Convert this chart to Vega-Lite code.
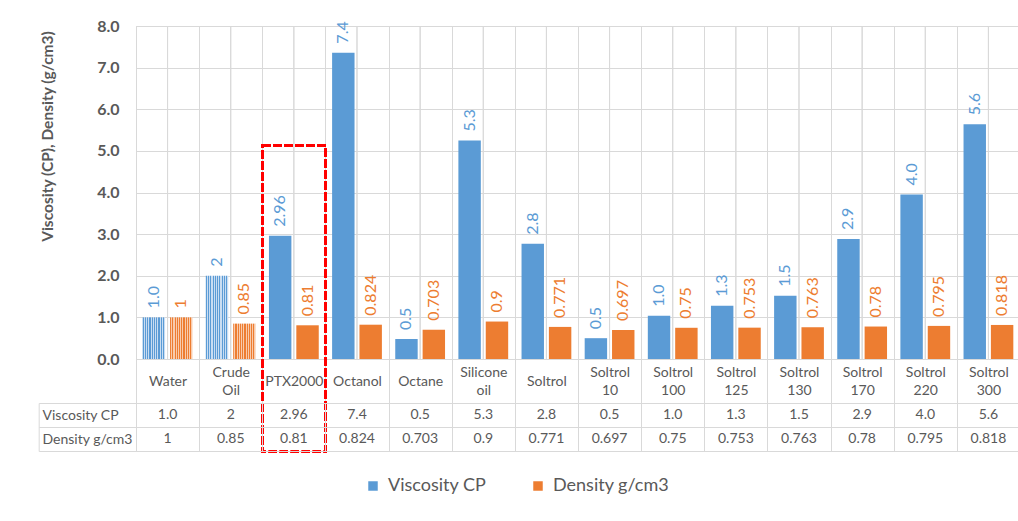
{
  "$schema": "https://vega.github.io/schema/vega-lite/v6.json",
  "padding": {"left": 37, "top": 17, "right": 0, "bottom": 5},
  "bounds": "flush",
  "spacing": 44,
  "config": {
    "font": "Lato",
    "view": {"stroke": "#d9d9d9"},
    "axis": {"gridColor": "#d9d9d9", "domainColor": "#d9d9d9", "tickColor": "#d9d9d9", "labelColor": "#595959", "titleColor": "#595959", "labelFont": "Lato", "titleFont": "Lato"},
    "legend": {"labelFont": "Lato"}
  },
  "datasets": {
    "d": [
      {"cat": "Water", "series": "Viscosity CP", "value": 1.0, "label": "1.0"},
      {"cat": "Crude Oil", "series": "Viscosity CP", "value": 2.0, "label": "2"},
      {"cat": "PTX2000", "series": "Viscosity CP", "value": 2.96, "label": "2.96"},
      {"cat": "Octanol", "series": "Viscosity CP", "value": 7.36, "label": "7.4"},
      {"cat": "Octane", "series": "Viscosity CP", "value": 0.48, "label": "0.5"},
      {"cat": "Silicone oil", "series": "Viscosity CP", "value": 5.25, "label": "5.3"},
      {"cat": "Soltrol", "series": "Viscosity CP", "value": 2.77, "label": "2.8"},
      {"cat": "Soltrol 10", "series": "Viscosity CP", "value": 0.5, "label": "0.5"},
      {"cat": "Soltrol 100", "series": "Viscosity CP", "value": 1.04, "label": "1.0"},
      {"cat": "Soltrol 125", "series": "Viscosity CP", "value": 1.28, "label": "1.3"},
      {"cat": "Soltrol 130", "series": "Viscosity CP", "value": 1.52, "label": "1.5"},
      {"cat": "Soltrol 170", "series": "Viscosity CP", "value": 2.88, "label": "2.9"},
      {"cat": "Soltrol 220", "series": "Viscosity CP", "value": 3.95, "label": "4.0"},
      {"cat": "Soltrol 300", "series": "Viscosity CP", "value": 5.64, "label": "5.6"},
      {"cat": "Water", "series": "Density g/cm3", "value": 1.0, "label": "1"},
      {"cat": "Crude Oil", "series": "Density g/cm3", "value": 0.85, "label": "0.85"},
      {"cat": "PTX2000", "series": "Density g/cm3", "value": 0.81, "label": "0.81"},
      {"cat": "Octanol", "series": "Density g/cm3", "value": 0.824, "label": "0.824"},
      {"cat": "Octane", "series": "Density g/cm3", "value": 0.703, "label": "0.703"},
      {"cat": "Silicone oil", "series": "Density g/cm3", "value": 0.9, "label": "0.9"},
      {"cat": "Soltrol", "series": "Density g/cm3", "value": 0.771, "label": "0.771"},
      {"cat": "Soltrol 10", "series": "Density g/cm3", "value": 0.697, "label": "0.697"},
      {"cat": "Soltrol 100", "series": "Density g/cm3", "value": 0.75, "label": "0.75"},
      {"cat": "Soltrol 125", "series": "Density g/cm3", "value": 0.753, "label": "0.753"},
      {"cat": "Soltrol 130", "series": "Density g/cm3", "value": 0.763, "label": "0.763"},
      {"cat": "Soltrol 170", "series": "Density g/cm3", "value": 0.78, "label": "0.78"},
      {"cat": "Soltrol 220", "series": "Density g/cm3", "value": 0.795, "label": "0.795"},
      {"cat": "Soltrol 300", "series": "Density g/cm3", "value": 0.818, "label": "0.818"}
    ]
  },
  "vconcat": [
    {
      "width": 884,
      "height": 333,
      "data": {"name": "d"},
      "encoding": {
        "x": {
          "field": "cat", "type": "nominal",
          "sort": ["Water","Crude Oil","PTX2000","Octanol","Octane","Silicone oil","Soltrol","Soltrol 10","Soltrol 100","Soltrol 125","Soltrol 130","Soltrol 170","Soltrol 220","Soltrol 300"],
          "scale": {"paddingInner": 0, "paddingOuter": 0},
          "axis": {"title": null, "tickBand": "extent", "grid": true, "ticks": true, "tickSize": 44, "domain": true, "labelExpr": "indexof(datum.label, ' ') >= 0 ? [split(datum.label, ' ')[0], '\u200b', split(datum.label, ' ')[1]] : ['\u200b', datum.label]", "labelFontSize": 14, "labelPadding": -31, "labelBaseline": "middle", "labelLineHeight": 9, "labelAngle": 0}
        }
      },
      "layer": [
        {"mark": {"type": "rule", "color": "#d9d9d9", "strokeWidth": 1}, "encoding": {}},
        {
          "mark": {"type": "bar"},
          "encoding": {
            "xOffset": {"field": "series", "type": "nominal", "sort": ["Viscosity CP", "Density g/cm3"], "scale": {"paddingInner": 0.18, "paddingOuter": 0.244}},
            "y": {"field": "value", "type": "quantitative", "scale": {"domain": [0, 8], "nice": false},
                  "axis": {"title": "Viscosity (CP), Density (g/cm3)", "values": [0,1,2,3,4,5,6,7,8], "format": ".1f", "labelFontSize": 16, "labelFontWeight": "bold", "labelPadding": 17, "ticks": false, "grid": true, "domain": true, "titleFontSize": 15.5, "titleFontWeight": "bold", "titleX": -89, "titleY": 110, "titleAngle": 270, "titleBaseline": "middle", "titleAlign": "center"}},
            "color": {
              "field": "series", "type": "nominal",
              "scale": {"domain": ["Viscosity CP", "Density g/cm3"], "range": ["#5b9bd5", "#ed7d31"]},
              "legend": {"title": null, "orient": "none", "direction": "horizontal", "legendX": 228, "legendY": 451, "symbolType": "square", "symbolSize": 90, "labelFontSize": 18, "labelColor": "#595959", "columnPadding": 42, "labelOffset": 6},
              "condition": [
                {"test": "(datum.cat === 'Water' || datum.cat === 'Crude Oil') && datum.series === 'Viscosity CP'",
                 "value": {"gradient": "linear", "x1": 0, "y1": 0, "x2": 1, "y2": 0, "stops": [
                   {"offset": 0, "color": "#5b9bd5"}, {"offset": 0.05, "color": "#5b9bd5"}, {"offset": 0.05, "color": "#c9ddf2"}, {"offset": 0.1, "color": "#c9ddf2"},
                   {"offset": 0.1, "color": "#5b9bd5"}, {"offset": 0.15, "color": "#5b9bd5"}, {"offset": 0.15, "color": "#c9ddf2"}, {"offset": 0.2, "color": "#c9ddf2"},
                   {"offset": 0.2, "color": "#5b9bd5"}, {"offset": 0.25, "color": "#5b9bd5"}, {"offset": 0.25, "color": "#c9ddf2"}, {"offset": 0.3, "color": "#c9ddf2"},
                   {"offset": 0.3, "color": "#5b9bd5"}, {"offset": 0.35, "color": "#5b9bd5"}, {"offset": 0.35, "color": "#c9ddf2"}, {"offset": 0.4, "color": "#c9ddf2"},
                   {"offset": 0.4, "color": "#5b9bd5"}, {"offset": 0.45, "color": "#5b9bd5"}, {"offset": 0.45, "color": "#c9ddf2"}, {"offset": 0.5, "color": "#c9ddf2"},
                   {"offset": 0.5, "color": "#5b9bd5"}, {"offset": 0.55, "color": "#5b9bd5"}, {"offset": 0.55, "color": "#c9ddf2"}, {"offset": 0.6, "color": "#c9ddf2"},
                   {"offset": 0.6, "color": "#5b9bd5"}, {"offset": 0.65, "color": "#5b9bd5"}, {"offset": 0.65, "color": "#c9ddf2"}, {"offset": 0.7, "color": "#c9ddf2"},
                   {"offset": 0.7, "color": "#5b9bd5"}, {"offset": 0.75, "color": "#5b9bd5"}, {"offset": 0.75, "color": "#c9ddf2"}, {"offset": 0.8, "color": "#c9ddf2"},
                   {"offset": 0.8, "color": "#5b9bd5"}, {"offset": 0.85, "color": "#5b9bd5"}, {"offset": 0.85, "color": "#c9ddf2"}, {"offset": 0.9, "color": "#c9ddf2"},
                   {"offset": 0.9, "color": "#5b9bd5"}, {"offset": 0.95, "color": "#5b9bd5"}, {"offset": 0.95, "color": "#c9ddf2"}, {"offset": 1, "color": "#c9ddf2"}
                 ]}},
                {"test": "(datum.cat === 'Water' || datum.cat === 'Crude Oil') && datum.series === 'Density g/cm3'",
                 "value": {"gradient": "linear", "x1": 0, "y1": 0, "x2": 1, "y2": 0, "stops": [
                   {"offset": 0, "color": "#ed7d31"}, {"offset": 0.05, "color": "#ed7d31"}, {"offset": 0.05, "color": "#f8cbad"}, {"offset": 0.1, "color": "#f8cbad"},
                   {"offset": 0.1, "color": "#ed7d31"}, {"offset": 0.15, "color": "#ed7d31"}, {"offset": 0.15, "color": "#f8cbad"}, {"offset": 0.2, "color": "#f8cbad"},
                   {"offset": 0.2, "color": "#ed7d31"}, {"offset": 0.25, "color": "#ed7d31"}, {"offset": 0.25, "color": "#f8cbad"}, {"offset": 0.3, "color": "#f8cbad"},
                   {"offset": 0.3, "color": "#ed7d31"}, {"offset": 0.35, "color": "#ed7d31"}, {"offset": 0.35, "color": "#f8cbad"}, {"offset": 0.4, "color": "#f8cbad"},
                   {"offset": 0.4, "color": "#ed7d31"}, {"offset": 0.45, "color": "#ed7d31"}, {"offset": 0.45, "color": "#f8cbad"}, {"offset": 0.5, "color": "#f8cbad"},
                   {"offset": 0.5, "color": "#ed7d31"}, {"offset": 0.55, "color": "#ed7d31"}, {"offset": 0.55, "color": "#f8cbad"}, {"offset": 0.6, "color": "#f8cbad"},
                   {"offset": 0.6, "color": "#ed7d31"}, {"offset": 0.65, "color": "#ed7d31"}, {"offset": 0.65, "color": "#f8cbad"}, {"offset": 0.7, "color": "#f8cbad"},
                   {"offset": 0.7, "color": "#ed7d31"}, {"offset": 0.75, "color": "#ed7d31"}, {"offset": 0.75, "color": "#f8cbad"}, {"offset": 0.8, "color": "#f8cbad"},
                   {"offset": 0.8, "color": "#ed7d31"}, {"offset": 0.85, "color": "#ed7d31"}, {"offset": 0.85, "color": "#f8cbad"}, {"offset": 0.9, "color": "#f8cbad"},
                   {"offset": 0.9, "color": "#ed7d31"}, {"offset": 0.95, "color": "#ed7d31"}, {"offset": 0.95, "color": "#f8cbad"}, {"offset": 1, "color": "#f8cbad"}
                 ]}}
              ]
            }
          }
        },
        {
          "mark": {"type": "text", "angle": 270, "align": "left", "baseline": "middle", "dx": 9, "fontSize": 16},
          "encoding": {
            "xOffset": {"field": "series", "type": "nominal", "sort": ["Viscosity CP", "Density g/cm3"]},
            "y": {"field": "value", "type": "quantitative"},
            "text": {"field": "label"},
            "color": {"field": "series", "type": "nominal"}
          }
        },
        {
          "mark": {"type": "bar", "fill": "transparent", "stroke": "#ff0000", "strokeDash": [8, 3], "strokeWidth": 2.5},
          "encoding": {
            "x": {"datum": "PTX2000"},
            "y": {"datum": 5.13},
            "y2": {"datum": -2.23}
          }
        }
      ]
    },
    {
      "width": 884,
      "height": 48,
      "data": {"name": "d"},
      "mark": {"type": "text", "fontSize": 14, "color": "#595959"},
      "encoding": {
        "x": {
          "field": "cat", "type": "nominal",
          "sort": ["Water","Crude Oil","PTX2000","Octanol","Octane","Silicone oil","Soltrol","Soltrol 10","Soltrol 100","Soltrol 125","Soltrol 130","Soltrol 170","Soltrol 220","Soltrol 300"],
          "scale": {"paddingInner": 0, "paddingOuter": 0},
          "axis": {"title": null, "labels": false, "ticks": false, "domain": false, "grid": true, "tickBand": "extent"}
        },
        "y": {
          "field": "series", "type": "nominal", "sort": ["Viscosity CP", "Density g/cm3"],
          "scale": {"paddingInner": 0, "paddingOuter": 0},
          "axis": {"title": null, "offset": 97.3, "tickBand": "extent", "grid": true, "domain": true, "ticks": true, "tickSize": -97.3, "labelAlign": "left", "labelPadding": 94, "labelFontSize": 14, "labelBaseline": "middle"}
        },
        "text": {"field": "label"}
      }
    }
  ]
}
